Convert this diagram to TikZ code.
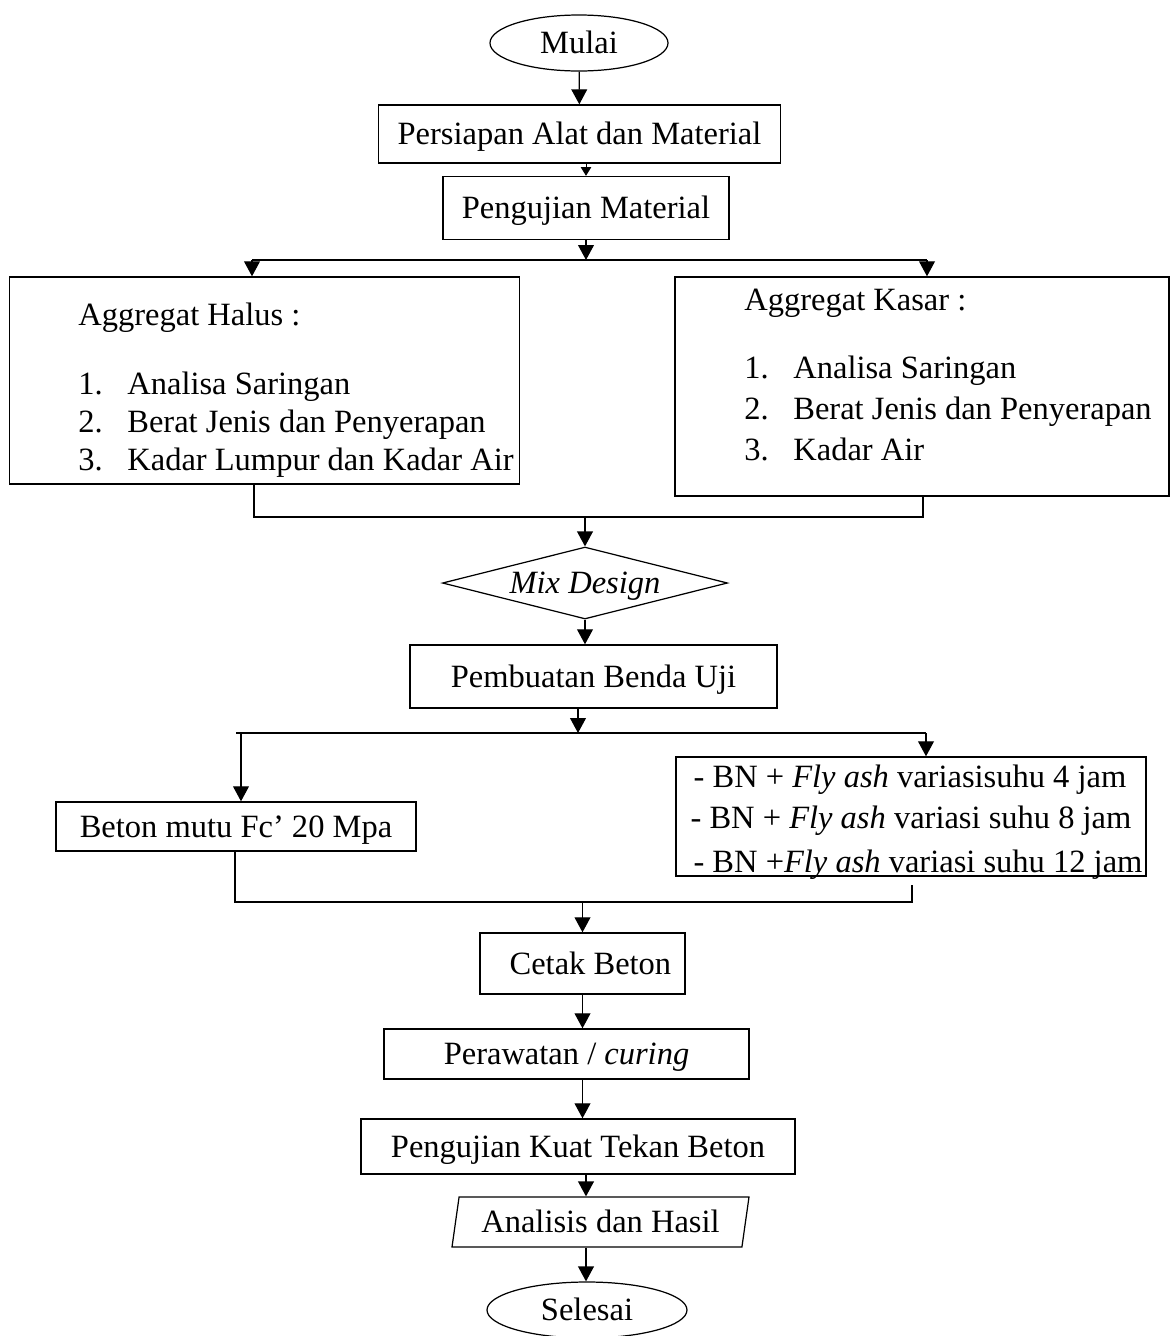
\documentclass[tikz,border=0pt]{standalone}
\usepackage{fontspec}
\setmainfont{Liberation Serif}
\usetikzlibrary{arrows.meta,shapes.geometric}
\begin{document}
\begin{tikzpicture}[
  x=0.02cm, y=-0.02cm,
  font=\fontsize{18.5}{22}\selectfont,
  box/.style={draw, rectangle, line width=0.8pt, inner sep=0pt, text height=12.4pt, text depth=0pt},
  terminal/.style={draw, ellipse, line width=0.7pt, inner sep=0pt, text height=12.4pt, text depth=0pt},
  flow/.style={line width=0.7pt, -{Triangle[length=8.5pt, width=9pt]}},
  flow small/.style={line width=0.5pt, -{Triangle[length=5pt, width=6pt]}},
  link/.style={line width=0.8pt},
  item/.style={anchor=base west, inner sep=0pt},
  line text/.style={anchor=base, inner sep=0pt}
  ]
  \def\px{0.02cm}
  \useasboundingbox (0,0) rectangle (1170,1336);
  \coordinate (axis) at (586,0);

  % main column
  \node[terminal, minimum width=178*\px, minimum height=56*\px] (mulai) at (579,43) {Mulai};
  \node[box, minimum width=402*\px, minimum height=58*\px] (persiapan) at (579.5,134) {Persiapan Alat dan Material};
  \node[box, minimum width=286*\px, minimum height=63*\px] (pengujian) at (586,208) {Pengujian Material};

  % aggregate boxes
  \node[box, minimum width=510*\px, minimum height=207*\px] (halus) at (264.5,380.5) {};
  \node[box, minimum width=494*\px, minimum height=219*\px] (kasar) at (922,386.5) {};
  \node[item] (halus-h) at (78,325) {Aggregat Halus :};
  \foreach \n/\txt [count=\i] in {1./Analisa Saringan, 2./Berat Jenis dan Penyerapan, 3./Kadar Lumpur dan Kadar Air} {
    \node[item] (halus-n\i) at (78,356+38*\i) {\n};
    \node[item] (halus-t\i) at (127,356+38*\i) {\txt};
  }
  \node[item] (kasar-h) at (744,310) {Aggregat Kasar :};
  \foreach \n/\txt [count=\i] in {1./Analisa Saringan, 2./Berat Jenis dan Penyerapan, 3./Kadar Air} {
    \node[item] (kasar-n\i) at (744,337+41*\i) {\n};
    \node[item] (kasar-t\i) at (793,337+41*\i) {\txt};
  }

  \node[draw, diamond, aspect=3.96, line width=0.7pt, inner sep=0pt, text height=12.4pt, text depth=0pt,
        minimum width=285*\px, minimum height=72*\px] (mix) at (585,583) {\textit{Mix Design}};
  \node[box, minimum width=367*\px, minimum height=63*\px] (pembuatan) at (593.5,676.5) {Pembuatan Benda Uji};

  % specimen boxes
  \node[box, minimum width=360*\px, minimum height=49*\px] (beton) at (236,826.5) {Beton mutu Fc’ 20 Mpa};
  \node[box, minimum width=470*\px, minimum height=119*\px] (variasi) at (911,816.5) {};
  \node[line text] (variasi-1) at (910,787) {- BN + \textit{Fly ash} variasisuhu 4 jam};
  \node[line text] (variasi-2) at (911,828) {- BN + \textit{Fly ash} variasi suhu 8 jam};
  \node[line text] (variasi-3) at (918,872) {- BN +\textit{Fly ash} variasi suhu 12 jam};

  \node[box, minimum width=205*\px, minimum height=61*\px] (cetak) at (582.5,963.5) {\hspace{9pt}Cetak Beton};
  \node[box, minimum width=365*\px, minimum height=50*\px] (perawatan) at (566.5,1054) {Perawatan / \textit{curing}};
  \node[box, minimum width=434*\px, minimum height=55*\px] (kuat) at (578,1146.5) {Pengujian Kuat Tekan Beton};
  \node[draw, trapezium, trapezium left angle=72, trapezium right angle=108, trapezium stretches body,
        line width=0.7pt, inner sep=0pt, text height=12.4pt, text depth=0pt,
        minimum width=297*\px, minimum height=50*\px] (analisis) at (600.5,1222) {Analisis dan Hasil};
  \node[terminal, minimum width=200*\px, minimum height=56*\px] (selesai) at (587,1310) {Selesai};

  % split and merge points
  \coordinate (s1L) at (252,260);
  \coordinate (s1R) at (927,260);
  \coordinate (m1L) at (254,517);
  \coordinate (m1R) at (923,517);
  \coordinate (s2) at (578,733);
  \coordinate (s2L) at (241,733);
  \coordinate (s2R) at (926,733);
  \coordinate (m2L) at (235,902);
  \coordinate (m2R) at (912,902);

  % connectors
  \draw[flow] (mulai) -- (persiapan);
  \draw[flow small] (persiapan.south -| pengujian) -- (pengujian.north);
  \draw[flow] (pengujian.south) -- (pengujian.south |- s1L);
  \draw[link] (s1L) -- (s1R);
  \draw[flow] (s1L) -- (s1L |- halus.north);
  \draw[flow] (s1R) -- (s1R |- kasar.north);
  \draw[link] (m1L |- halus.south) -- (m1L) -- (m1R) -- (m1R |- kasar.south);
  \draw[flow] (mix.north |- m1L) -- (mix.north);
  \draw[flow] (mix.south) -- (mix.south |- pembuatan.north);
  \draw[flow] (pembuatan.south -| s2) -- (s2);
  \draw[link] ([xshift=-5*\px]s2L) -- (s2R);
  \draw[flow] (s2L) -- (s2L |- beton.north);
  \draw[flow] (s2R) -- (s2R |- variasi.north);
  \draw[link, shorten >=8*\px] (m2L |- beton.south) -- (m2L) -- (m2R) -- (m2R |- variasi.south);
  \draw[flow] (cetak.north |- m2L) -- (cetak.north);
  \draw[flow] (cetak.south) -- (cetak.south |- perawatan.north);
  \draw[flow] (perawatan.south -| cetak) -- (cetak |- kuat.north);
  \draw[flow] (axis |- kuat.south) -- (axis |- analisis.north);
  \draw[flow] (axis |- analisis.south) -- (axis |- selesai.north);
\end{tikzpicture}
\end{document}
